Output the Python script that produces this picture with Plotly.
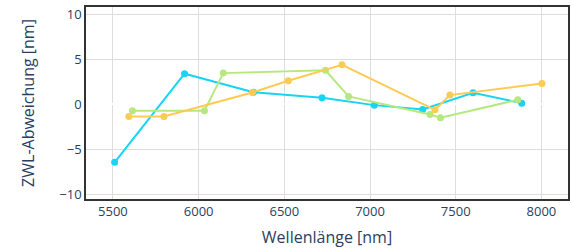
import plotly.graph_objects as go

# Series data (wavelength [nm], ZWL deviation [nm])
cyan_x = [5510, 5918, 6320, 6720, 7025, 7307, 7601, 7885]
cyan_y = [-6.4, 3.4, 1.35, 0.74, -0.07, -0.55, 1.29, 0.15]

green_x = [5614, 6034, 6144, 6740, 6875, 7350, 7411, 7862]
green_y = [-0.7, -0.68, 3.47, 3.78, 0.89, -1.1, -1.47, 0.52]

yellow_x = [5593, 5798, 6314, 6523, 6837, 7379, 7466, 8003]
yellow_y = [-1.33, -1.33, 1.33, 2.62, 4.39, -0.59, 1.04, 2.32]

x_title = "Wellenlänge [nm]"
y_title = "ZWL-Abweichung [nm]"

fig = go.Figure()
for xs, ys, col in [(cyan_x, cyan_y, "#19D3F3"),
                    (green_x, green_y, "#B6E880"),
                    (yellow_x, yellow_y, "#FECB52")]:
    fig.add_trace(go.Scatter(x=xs, y=ys, mode="lines+markers",
                             line=dict(color=col, width=2),
                             marker=dict(color=col, size=7)))

axis_common = dict(showgrid=True, gridcolor="#DDDDDD", gridwidth=1,
                   zeroline=True, zerolinecolor="white", zerolinewidth=2,
                   showline=True, linecolor="#333333", linewidth=1.5, mirror=True,
                   tickfont=dict(size=13, color="#2a3f5f"), ticks="")

fig.update_layout(
    width=572, height=250,
    margin=dict(l=86, r=2, t=7, b=51),
    paper_bgcolor="white", plot_bgcolor="white",
    showlegend=False,
    font=dict(family="Open Sans", color="#2a3f5f"),
    xaxis=dict(range=[5343, 8155], tickvals=[5500, 6000, 6500, 7000, 7500, 8000],
               title=dict(text=x_title, font=dict(size=16), standoff=12), **axis_common),
    yaxis=dict(range=[-10.45, 10.78], tickvals=[-10, -5, 0, 5, 10],
               title=dict(text=y_title, font=dict(size=16), standoff=21), **axis_common),
)

fig.write_html("out.html", config={"displayModeBar": False},
               post_script="document.body.style.margin='0';")
